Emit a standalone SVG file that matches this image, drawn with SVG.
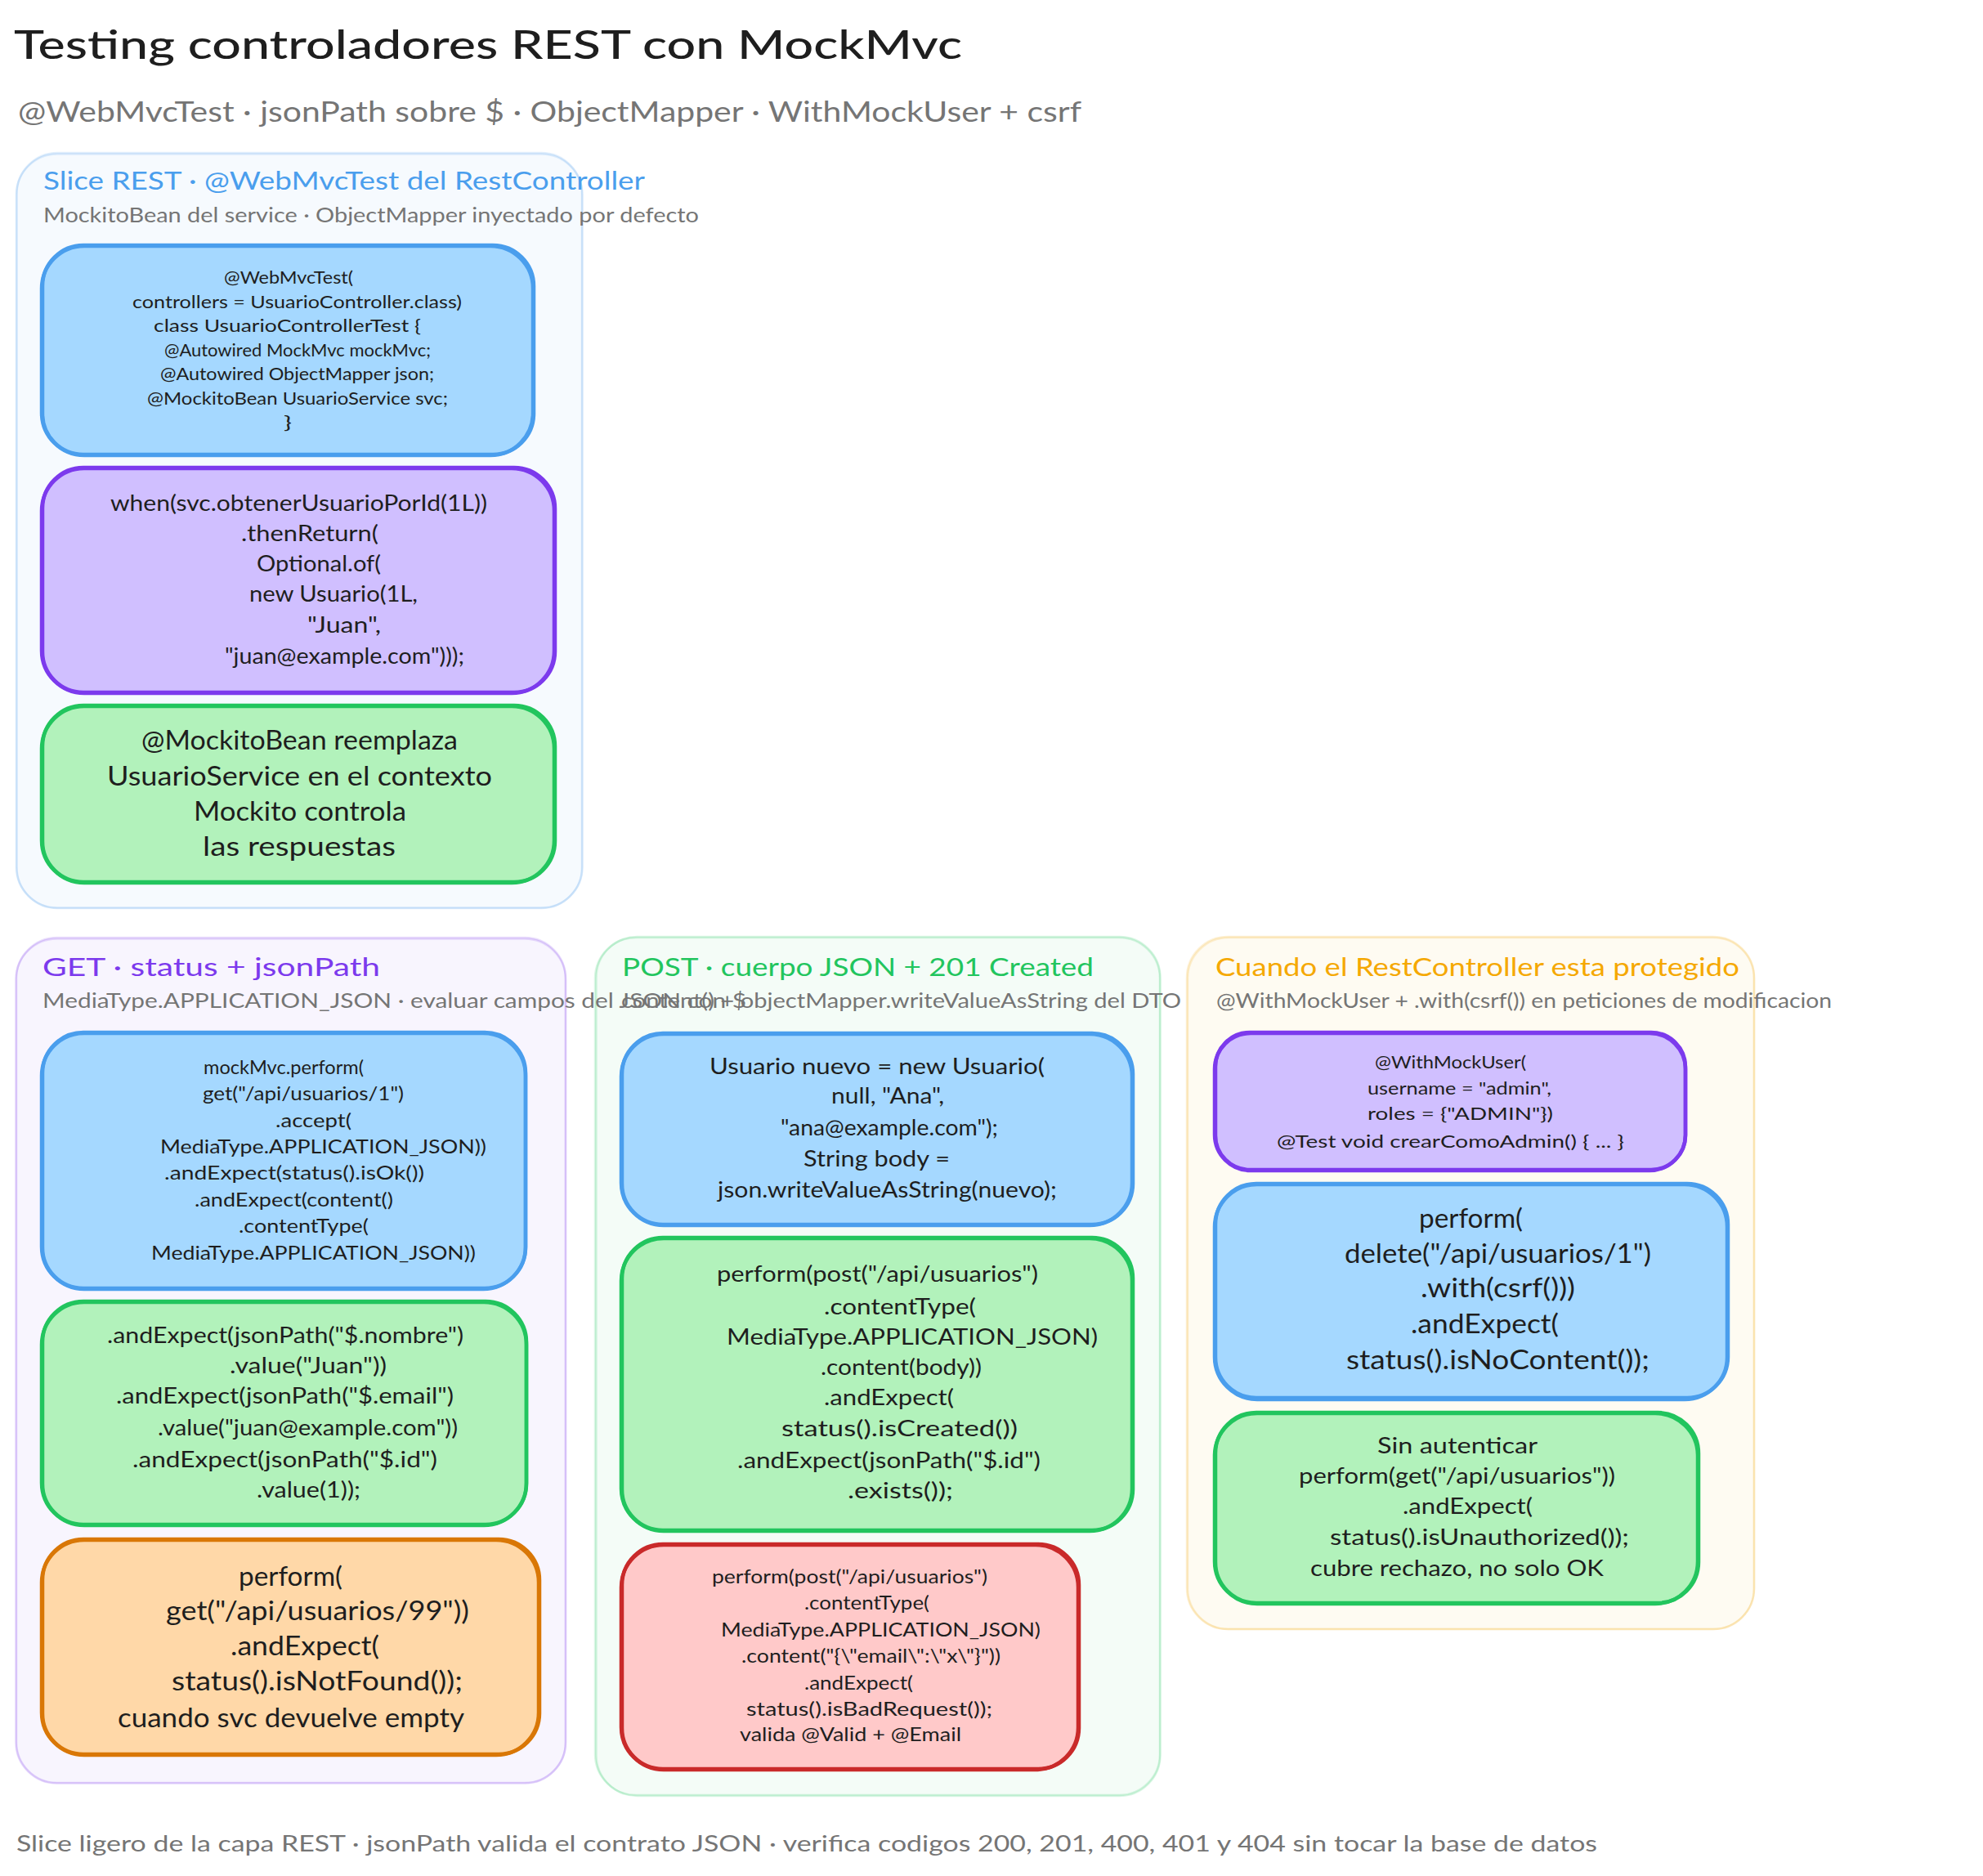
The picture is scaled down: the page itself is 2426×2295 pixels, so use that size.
<svg xmlns="http://www.w3.org/2000/svg" width="2426" height="2295" viewBox="0 0 2426 2295">
<style>
text{font-family:"Lato","Open Sans",sans-serif;fill:#1e1e1e;white-space:pre}
.t{font-size:48px;font-weight:500}
.st{font-size:34px;fill:#757575}
.h{font-size:30px}
.s{font-size:25px;fill:#757575}
.f{font-size:27px;fill:#757575}
.a{font-size:22px}.b{font-size:24px}.c{font-size:27px}.d{font-size:32px}
.sec{stroke-width:2.5;stroke-opacity:.16;fill-opacity:.05}
.sk{fill:none}
.n{stroke-width:4.5}
.bl{fill:#a5d8ff;stroke:#4a9eed}.pu{fill:#d0bfff;stroke:#7c3aed}.gr{fill:#b2f2bb;stroke:#22c55e}.or{fill:#ffd8a8;stroke:#d97706}.re{fill:#ffc9c9;stroke:#c92a2a}
.sb{fill:#4a9eed;stroke:#4a9eed}.sp{fill:#7c3aed;stroke:#7c3aed}.sg{fill:#22c55e;stroke:#22c55e}.sy{fill:#f5a800;stroke:#f5a800}
</style>
<rect width="2426" height="2295" fill="#fff"/>
<g id="header">
<text class="t" x="17" y="72" textLength="1160" lengthAdjust="spacingAndGlyphs">Testing controladores REST con MockMvc</text>
<text class="st" x="22" y="149" textLength="1301" lengthAdjust="spacingAndGlyphs">@WebMvcTest · jsonPath sobre $ · ObjectMapper · WithMockUser + csrf</text>
</g>
<g id="connectors"></g>
<g id="section-slice">
<rect class="sec sb" x="20.5" y="187" width="691.5" height="924" rx="50"/>
<rect class="sec sk" stroke="#4a9eed" x="20" y="188.5" width="692.5" height="922" rx="50"/>
<text class="h" x="53" y="232" textLength="736" lengthAdjust="spacingAndGlyphs" style="fill:#4a9eed">Slice REST · @WebMvcTest del RestController</text>
<text class="s" x="53" y="272" textLength="802" lengthAdjust="spacingAndGlyphs">MockitoBean del service · ObjectMapper inyectado por defecto</text>
</g>
<g id="section-get">
<rect class="sec sp" x="20" y="1147" width="672" height="1034" rx="50"/>
<rect class="sec sk" stroke="#7c3aed" x="19.5" y="1148.5" width="672.5" height="1033" rx="50"/>
<text class="h" x="52" y="1194" textLength="413" lengthAdjust="spacingAndGlyphs" style="fill:#7c3aed">GET · status + jsonPath</text>
</g>
<g id="section-post">
<rect class="sec sg" x="728" y="1147" width="691" height="1049" rx="50"/>
<rect class="sec sk" stroke="#22c55e" x="729.5" y="1146" width="690" height="1051" rx="50"/>
<text class="h" x="761" y="1194" textLength="577" lengthAdjust="spacingAndGlyphs" style="fill:#22c55e">POST · cuerpo JSON + 201 Created</text>
</g>
<g id="section-secure">
<rect class="sec sy" x="1453" y="1147" width="693" height="846" rx="50"/>
<rect class="sec sk" stroke="#f5a800" x="1452" y="1146" width="694" height="847" rx="50"/>
<text class="h" x="1487" y="1194" textLength="641" lengthAdjust="spacingAndGlyphs" style="fill:#f5a800">Cuando el RestController esta protegido</text>
</g>
<g id="subheads">
<text class="s" x="52" y="1233" textLength="861" lengthAdjust="spacingAndGlyphs">MediaType.APPLICATION_JSON · evaluar campos del JSON con $</text>
<text class="s" x="760" y="1233" textLength="685" lengthAdjust="spacingAndGlyphs">content() + objectMapper.writeValueAsString del DTO</text>
<text class="s" x="1488" y="1233" textLength="753" lengthAdjust="spacingAndGlyphs">@WithMockUser + .with(csrf()) en peticiones de modificacion</text>
</g>
<g id="n1">
<rect class="n bl" x="52" y="300" width="601" height="256" rx="50"/>
<rect class="n bl" style="fill:none" x="51" y="301" width="601" height="256" rx="52"/>
<text class="a" x="274" y="347" textLength="158" lengthAdjust="spacingAndGlyphs">@WebMvcTest(</text>
<text class="a" x="162" y="377" textLength="403" lengthAdjust="spacingAndGlyphs">controllers = UsuarioController.class)</text>
<text class="a" x="188" y="406" textLength="327" lengthAdjust="spacingAndGlyphs">class UsuarioControllerTest {</text>
<text class="a" x="201" y="436" textLength="326" lengthAdjust="spacingAndGlyphs">@Autowired MockMvc mockMvc;</text>
<text class="a" x="196" y="465" textLength="335" lengthAdjust="spacingAndGlyphs">@Autowired ObjectMapper json;</text>
<text class="a" x="180" y="495" textLength="368" lengthAdjust="spacingAndGlyphs">@MockitoBean UsuarioService svc;</text>
<text class="a" x="347" y="524" textLength="10" lengthAdjust="spacingAndGlyphs">}</text>
</g>
<g id="n2">
<rect class="n pu" x="52" y="572" width="627" height="275" rx="50"/>
<rect class="n pu" style="fill:none" x="51" y="573" width="627" height="275" rx="52"/>
<text class="c" x="135" y="625" textLength="461" lengthAdjust="spacingAndGlyphs">when(svc.obtenerUsuarioPorId(1L))</text>
<text class="c" x="295" y="662" textLength="168" lengthAdjust="spacingAndGlyphs">.thenReturn(</text>
<text class="c" x="314" y="699" textLength="152" lengthAdjust="spacingAndGlyphs">Optional.of(</text>
<text class="c" x="305" y="736" textLength="206" lengthAdjust="spacingAndGlyphs">new Usuario(1L,</text>
<text class="c" x="376" y="774" textLength="90" lengthAdjust="spacingAndGlyphs">"Juan",</text>
<text class="c" x="275" y="812" textLength="293" lengthAdjust="spacingAndGlyphs">"juan@example.com")));</text>
</g>
<g id="n3">
<rect class="n gr" x="52" y="863" width="627" height="216" rx="50"/>
<rect class="n gr" style="fill:none" x="51" y="864" width="627" height="216" rx="52"/>
<text class="d" x="173" y="917" textLength="387" lengthAdjust="spacingAndGlyphs">@MockitoBean reemplaza</text>
<text class="d" x="131" y="961" textLength="471" lengthAdjust="spacingAndGlyphs">UsuarioService en el contexto</text>
<text class="d" x="237" y="1004" textLength="260" lengthAdjust="spacingAndGlyphs">Mockito controla</text>
<text class="d" x="248" y="1047" textLength="236" lengthAdjust="spacingAndGlyphs">las respuestas</text>
</g>
<g id="n4">
<rect class="n bl" x="52" y="1263" width="591" height="313" rx="50"/>
<rect class="n bl" style="fill:none" x="51" y="1264" width="592" height="313" rx="52"/>
<text class="b" x="249" y="1314" textLength="196" lengthAdjust="spacingAndGlyphs">mockMvc.perform(</text>
<text class="b" x="248" y="1346" textLength="246" lengthAdjust="spacingAndGlyphs">get("/api/usuarios/1")</text>
<text class="b" x="337" y="1379" textLength="93" lengthAdjust="spacingAndGlyphs">.accept(</text>
<text class="b" x="196" y="1411" textLength="399" lengthAdjust="spacingAndGlyphs">MediaType.APPLICATION_JSON))</text>
<text class="b" x="201" y="1443" textLength="318" lengthAdjust="spacingAndGlyphs">.andExpect(status().isOk())</text>
<text class="b" x="238" y="1476" textLength="243" lengthAdjust="spacingAndGlyphs">.andExpect(content()</text>
<text class="b" x="292" y="1508" textLength="159" lengthAdjust="spacingAndGlyphs">.contentType(</text>
<text class="b" x="185" y="1541" textLength="397" lengthAdjust="spacingAndGlyphs">MediaType.APPLICATION_JSON))</text>
</g>
<g id="n5">
<rect class="n gr" x="52" y="1592" width="592" height="273" rx="50"/>
<rect class="n gr" style="fill:none" x="51" y="1593" width="593" height="273" rx="52"/>
<text class="c" x="131" y="1643" textLength="436" lengthAdjust="spacingAndGlyphs">.andExpect(jsonPath("$.nombre")</text>
<text class="c" x="281" y="1680" textLength="192" lengthAdjust="spacingAndGlyphs">.value("Juan"))</text>
<text class="c" x="142" y="1717" textLength="413" lengthAdjust="spacingAndGlyphs">.andExpect(jsonPath("$.email")</text>
<text class="c" x="193" y="1756" textLength="367" lengthAdjust="spacingAndGlyphs">.value("juan@example.com"))</text>
<text class="c" x="162" y="1795" textLength="373" lengthAdjust="spacingAndGlyphs">.andExpect(jsonPath("$.id")</text>
<text class="c" x="314" y="1832" textLength="127" lengthAdjust="spacingAndGlyphs">.value(1));</text>
</g>
<g id="n6">
<rect class="n or" x="52" y="1883" width="608" height="263" rx="50"/>
<rect class="n or" style="fill:none" x="51" y="1884" width="608" height="263" rx="52"/>
<text class="d" x="292" y="1940" textLength="127" lengthAdjust="spacingAndGlyphs">perform(</text>
<text class="d" x="203" y="1982" textLength="371" lengthAdjust="spacingAndGlyphs">get("/api/usuarios/99"))</text>
<text class="d" x="282" y="2025" textLength="182" lengthAdjust="spacingAndGlyphs">.andExpect(</text>
<text class="d" x="210" y="2068" textLength="356" lengthAdjust="spacingAndGlyphs">status().isNotFound());</text>
<text class="d" x="144" y="2113" textLength="424" lengthAdjust="spacingAndGlyphs">cuando svc devuelve empty</text>
</g>
<g id="n7">
<rect class="n bl" x="761" y="1264" width="625" height="234" rx="50"/>
<rect class="n bl" style="fill:none" x="760" y="1265" width="625" height="234" rx="52"/>
<text class="c" x="868" y="1314" textLength="410" lengthAdjust="spacingAndGlyphs">Usuario nuevo = new Usuario(</text>
<text class="c" x="1017" y="1350" textLength="138" lengthAdjust="spacingAndGlyphs">null, "Ana",</text>
<text class="c" x="955" y="1389" textLength="266" lengthAdjust="spacingAndGlyphs">"ana@example.com");</text>
<text class="c" x="983" y="1427" textLength="179" lengthAdjust="spacingAndGlyphs">String body =</text>
<text class="c" x="878" y="1465" textLength="415" lengthAdjust="spacingAndGlyphs">json.writeValueAsString(nuevo);</text>
</g>
<g id="n8">
<rect class="n gr" x="761" y="1514" width="625" height="358" rx="50"/>
<rect class="n gr" style="fill:none" x="760" y="1515" width="625" height="358" rx="52"/>
<text class="c" x="877" y="1568" textLength="393" lengthAdjust="spacingAndGlyphs">perform(post("/api/usuarios")</text>
<text class="c" x="1008" y="1608" textLength="186" lengthAdjust="spacingAndGlyphs">.contentType(</text>
<text class="c" x="889" y="1645" textLength="454" lengthAdjust="spacingAndGlyphs">MediaType.APPLICATION_JSON)</text>
<text class="c" x="1004" y="1682" textLength="197" lengthAdjust="spacingAndGlyphs">.content(body))</text>
<text class="c" x="1008" y="1719" textLength="159" lengthAdjust="spacingAndGlyphs">.andExpect(</text>
<text class="c" x="956" y="1757" textLength="289" lengthAdjust="spacingAndGlyphs">status().isCreated())</text>
<text class="c" x="902" y="1796" textLength="371" lengthAdjust="spacingAndGlyphs">.andExpect(jsonPath("$.id")</text>
<text class="c" x="1037" y="1833" textLength="129" lengthAdjust="spacingAndGlyphs">.exists());</text>
</g>
<g id="n9">
<rect class="n re" x="761" y="1889" width="559" height="275" rx="50"/>
<rect class="n re" style="fill:none" x="760" y="1890" width="559" height="275" rx="52"/>
<text class="b" x="871" y="1937" textLength="337" lengthAdjust="spacingAndGlyphs">perform(post("/api/usuarios")</text>
<text class="b" x="984" y="1969" textLength="153" lengthAdjust="spacingAndGlyphs">.contentType(</text>
<text class="b" x="882" y="2002" textLength="391" lengthAdjust="spacingAndGlyphs">MediaType.APPLICATION_JSON)</text>
<text class="b" x="907" y="2034" textLength="317" lengthAdjust="spacingAndGlyphs">.content("{\"email\":\"x\"}"))</text>
<text class="b" x="984" y="2067" textLength="133" lengthAdjust="spacingAndGlyphs">.andExpect(</text>
<text class="b" x="913" y="2099" textLength="301" lengthAdjust="spacingAndGlyphs">status().isBadRequest());</text>
<text class="b" x="905" y="2130" textLength="271" lengthAdjust="spacingAndGlyphs">valida @Valid + @Email</text>
</g>
<g id="n10">
<rect class="n pu" x="1487" y="1263" width="575" height="168" rx="42"/>
<rect class="n pu" style="fill:none" x="1486" y="1264" width="576" height="168" rx="44"/>
<text class="a" x="1682" y="1307" textLength="185" lengthAdjust="spacingAndGlyphs">@WithMockUser(</text>
<text class="a" x="1673" y="1339" textLength="225" lengthAdjust="spacingAndGlyphs">username = "admin",</text>
<text class="a" x="1673" y="1370" textLength="227" lengthAdjust="spacingAndGlyphs">roles = {"ADMIN"})</text>
<text class="a" x="1562" y="1404" textLength="425" lengthAdjust="spacingAndGlyphs">@Test void crearComoAdmin() { ... }</text>
</g>
<g id="n11">
<rect class="n bl" x="1487" y="1448" width="627" height="262" rx="50"/>
<rect class="n bl" style="fill:none" x="1486" y="1449" width="627" height="263" rx="52"/>
<text class="d" x="1736" y="1502" textLength="127" lengthAdjust="spacingAndGlyphs">perform(</text>
<text class="d" x="1645" y="1545" textLength="375" lengthAdjust="spacingAndGlyphs">delete("/api/usuarios/1")</text>
<text class="d" x="1738" y="1587" textLength="189" lengthAdjust="spacingAndGlyphs">.with(csrf()))</text>
<text class="d" x="1726" y="1631" textLength="181" lengthAdjust="spacingAndGlyphs">.andExpect(</text>
<text class="d" x="1647" y="1675" textLength="371" lengthAdjust="spacingAndGlyphs">status().isNoContent());</text>
</g>
<g id="n12">
<rect class="n gr" x="1487" y="1728" width="591" height="233" rx="50"/>
<rect class="n gr" style="fill:none" x="1486" y="1729" width="591" height="233" rx="52"/>
<text class="c" x="1685" y="1778" textLength="196" lengthAdjust="spacingAndGlyphs">Sin autenticar</text>
<text class="c" x="1589" y="1815" textLength="387" lengthAdjust="spacingAndGlyphs">perform(get("/api/usuarios"))</text>
<text class="c" x="1716" y="1852" textLength="159" lengthAdjust="spacingAndGlyphs">.andExpect(</text>
<text class="c" x="1627" y="1890" textLength="366" lengthAdjust="spacingAndGlyphs">status().isUnauthorized());</text>
<text class="c" x="1603" y="1928" textLength="359" lengthAdjust="spacingAndGlyphs">cubre rechazo, no solo OK</text>
</g>
<g id="footer">
<text class="f" x="20" y="2265" textLength="1934" lengthAdjust="spacingAndGlyphs">Slice ligero de la capa REST · jsonPath valida el contrato JSON · verifica codigos 200, 201, 400, 401 y 404 sin tocar la base de datos</text>
</g>
</svg>
